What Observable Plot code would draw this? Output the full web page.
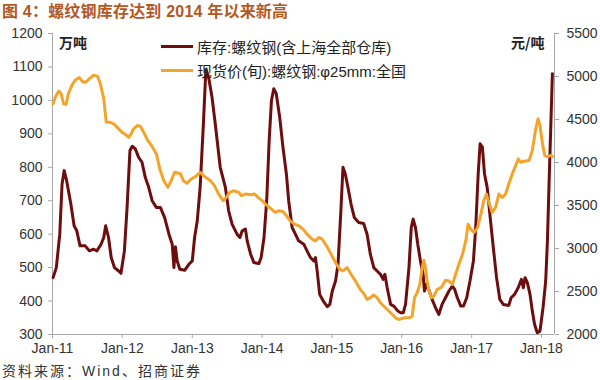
<!DOCTYPE html>
<html>
<head>
<meta charset="utf-8">
<script src="https://cdn.jsdelivr.net/npm/d3@7"></script>
<script src="https://cdn.jsdelivr.net/npm/@observablehq/plot@0.6"></script>
<style>
  body { margin: 0; background: #fff; }
  #wrap { position: relative; width: 600px; height: 380px; overflow: hidden; font-family: "Liberation Sans", Arial, "Noto Sans CJK SC", sans-serif; }
  #title { height: 24px; line-height: 24px; padding-left: 2px; font-size: 16px; font-weight: bold; color: #b5581f; font-family: "Liberation Sans", "Noto Sans CJK SC", sans-serif; white-space: nowrap; letter-spacing: 0.2px; }
  #caption { height: 16px; line-height: 14px; padding-left: 2px; font-size: 14px; letter-spacing: 2px; color: #333; font-family: "Liberation Sans", "Noto Sans CJK SC", sans-serif; white-space: nowrap; }
  .unit { position: absolute; font-size: 14px; font-weight: bold; color: #222; font-family: "Noto Sans CJK SC", sans-serif; line-height: 14px; }
  #legend { position: absolute; left: 161px; top: 34px; font-size: 15px; color: #222; font-family: "Liberation Sans", "Noto Sans CJK SC", sans-serif; }
  .row { display: flex; align-items: center; height: 24px; }
  .sw { width: 32px; height: 3px; margin-right: 4px; }
  svg { display: block; }
</style>
</head>
<body>
<div id="wrap">
  <div id="title">图 4：螺纹钢库存达到 2014 年以来新高</div>
  <div id="chart"></div>
  <div id="caption">资料来源：Wind、招商证券</div>
  <div class="unit" style="left:59px; top:35px;">万吨</div>
  <div class="unit" style="left:511px; top:35px;">元/吨</div>
  <div id="legend"></div>
</div>
<script>
// ---- data ----
const seriesNames = ["库存:螺纹钢(含上海全部仓库)", "现货价(旬):螺纹钢:φ25mm:全国"];
const seriesColors = ["#6e0d0d", "#f4a42a"];

const invDates = ["2011-01-04","2011-01-21","2011-02-08","2011-02-20","2011-03-03","2011-03-16","2011-04-07","2011-04-24","2011-05-08","2011-05-25","2011-06-21","2011-07-13","2011-08-04","2011-08-21","2011-09-12","2011-09-26","2011-10-06","2011-10-21","2011-11-04","2011-11-21","2011-12-13","2011-12-25",
"2012-01-12","2012-01-26","2012-02-10","2012-02-22","2012-03-09","2012-03-26","2012-04-13","2012-04-30","2012-05-18","2012-06-05","2012-06-27","2012-07-18","2012-08-09","2012-09-01","2012-09-18","2012-09-27","2012-10-05","2012-10-14","2012-10-28","2012-11-22","2012-12-14",
"2013-01-01","2013-01-13","2013-01-27","2013-02-11","2013-02-28","2013-03-13","2013-03-27","2013-04-14","2013-05-01","2013-05-27","2013-06-23","2013-07-10","2013-07-28","2013-08-23","2013-09-07","2013-09-19","2013-10-06","2013-10-15","2013-11-02","2013-11-19","2013-12-15","2013-12-27",
"2014-01-11","2014-01-25","2014-02-07","2014-02-19","2014-03-03","2014-03-16","2014-04-03","2014-04-20","2014-05-08","2014-05-20","2014-06-07","2014-06-24","2014-07-11","2014-08-07","2014-08-24","2014-09-11","2014-09-28","2014-10-07","2014-10-16","2014-10-29","2014-11-17","2014-12-08","2014-12-21",
"2015-01-03","2015-01-20","2015-02-02","2015-02-16","2015-02-28","2015-03-12","2015-03-26","2015-04-11","2015-04-28","2015-05-21","2015-06-16","2015-07-04","2015-07-21","2015-08-08","2015-08-25","2015-09-12","2015-09-26","2015-10-05","2015-10-17","2015-11-04","2015-11-21","2015-12-12","2015-12-26",
"2016-01-09","2016-01-21","2016-02-08","2016-02-20","2016-03-01","2016-03-13","2016-03-25","2016-04-08","2016-04-22","2016-04-29","2016-05-09","2016-05-21","2016-06-08","2016-06-26","2016-07-13","2016-07-30","2016-08-17","2016-09-04","2016-09-22","2016-10-04","2016-10-18","2016-11-05","2016-11-19","2016-12-06","2016-12-23",
"2017-01-10","2017-01-22","2017-02-04","2017-02-14","2017-02-26","2017-03-09","2017-03-23","2017-04-06","2017-04-24","2017-05-11","2017-05-28","2017-06-15","2017-07-14","2017-07-26","2017-08-13","2017-09-01","2017-09-18","2017-09-28","2017-10-07","2017-10-19","2017-11-02","2017-11-14","2017-11-26","2017-12-10","2017-12-24",
"2018-01-09","2018-01-23","2018-02-01","2018-02-10","2018-02-19","2018-02-27"];
const invValues = [470,500,600,750,790,760,690,625,610,565,565,550,555,550,570,590,625,590,530,500,490,483,
550,680,850,863,855,830,815,770,740,700,680,680,650,600,570,500,562,520,495,492,510,
520,590,640,740,930,1092,1070,1010,930,800,740,670,630,600,590,610,615,580,540,515,512,530,
590,700,880,1000,1035,1020,950,860,780,700,620,600,580,570,550,530,520,530,490,420,400,383,390,
430,460,510,660,800,780,740,690,650,635,632,600,540,500,490,480,465,480,440,390,385,370,365,
365,390,500,620,645,620,570,520,480,430,450,435,405,380,360,390,410,430,445,435,410,385,385,410,460,
520,620,780,870,860,780,740,660,560,470,405,390,387,410,420,440,465,440,470,455,420,370,330,305,310,
380,460,580,760,930,1080];

const priceDates = ["2011-01-04","2011-01-16","2011-02-03","2011-02-15","2011-02-28","2011-03-13","2011-03-25","2011-04-12","2011-04-29","2011-05-22","2011-06-09","2011-06-26","2011-07-13","2011-08-04","2011-08-25","2011-09-08","2011-09-26","2011-10-09","2011-10-27","2011-11-17","2011-12-08","2011-12-30",
"2012-01-17","2012-02-04","2012-02-16","2012-02-29","2012-03-21","2012-04-05","2012-04-22","2012-05-13","2012-06-05","2012-06-27","2012-07-15","2012-08-05","2012-08-26","2012-09-13","2012-09-30","2012-10-17","2012-11-01","2012-11-15","2012-12-05","2012-12-26",
"2013-01-18","2013-02-11","2013-03-01","2013-03-19","2013-04-06","2013-04-27","2013-05-19","2013-06-11","2013-06-28","2013-07-16","2013-08-06","2013-09-02","2013-09-14","2013-10-06","2013-11-02","2013-11-23","2013-12-10",
"2014-01-02","2014-01-28","2014-02-19","2014-03-11","2014-03-28","2014-04-20","2014-05-08","2014-05-28","2014-06-19","2014-07-11","2014-08-03","2014-08-24","2014-09-20","2014-10-07","2014-10-24","2014-11-11","2014-12-04","2014-12-28",
"2015-01-20","2015-02-12","2015-02-28","2015-03-21","2015-04-11","2015-05-04","2015-05-29","2015-06-20","2015-07-04","2015-07-21","2015-08-08","2015-08-25","2015-09-12","2015-10-08","2015-11-04","2015-11-30","2015-12-17",
"2016-01-13","2016-02-08","2016-02-25","2016-03-08","2016-03-22","2016-04-05","2016-04-17","2016-04-26","2016-05-04","2016-05-13","2016-05-21","2016-06-04","2016-06-17","2016-07-05","2016-07-25","2016-08-17","2016-09-04","2016-09-22","2016-10-09","2016-10-26","2016-11-14","2016-12-01","2016-12-13","2016-12-27",
"2017-01-14","2017-02-01","2017-02-18","2017-03-05","2017-03-19","2017-04-01","2017-04-18","2017-05-06","2017-05-23","2017-06-10","2017-06-27","2017-07-14","2017-08-01","2017-08-19","2017-09-02","2017-09-14","2017-10-02","2017-10-28","2017-11-14","2017-12-02","2017-12-14","2017-12-24",
"2018-01-06","2018-01-18","2018-02-01","2018-02-19","2018-02-27"];
const priceValues = [4683,4761,4831,4800,4683,4676,4800,4897,4956,4987,4936,4936,4975,5014,5002,4917,4742,4469,4469,4450,4403,4353,
4326,4294,4333,4392,4431,4419,4353,4256,4186,4100,3925,3789,3711,3789,3886,3878,3867,3789,3758,3808,
3836,3886,3847,3816,3789,3731,3633,3556,3594,3653,3672,3653,3614,3633,3626,3633,3594,
3556,3497,3458,3419,3439,3431,3381,3322,3283,3264,3225,3167,3108,3089,3128,3108,3031,2933,
2836,2758,2739,2778,2700,2622,2525,2467,2408,2428,2459,2428,2369,2311,2253,2194,2175,
2194,2194,2214,2428,2486,2583,2778,2863,2778,2622,2525,2428,2447,2525,2544,2630,2622,2583,2700,2817,2933,3089,3283,3225,
3186,3244,3400,3556,3633,3536,3419,3478,3633,3594,3633,3750,3867,3964,4042,4003,4014,4022,4139,4392,4508,4431,
4217,4081,4069,4081,4069];

const invTicks = [300,400,500,600,700,800,900,1000,1100,1200];
const priceTicks = [2000,2500,3000,3500,4000,4500,5000,5500];
const yearTicks = ["2011-01-01","2012-01-01","2013-01-01","2014-01-01","2015-01-01","2016-01-01","2017-01-01","2018-01-01"];
const xDomain = ["2011-01-01","2018-03-10"];

// ---- build ----
const parse = d3.utcParse("%Y-%m-%d");
const inv = invDates.map((d, i) => ({date: parse(d), value: invValues[i]}));
const price = priceDates.map((d, i) => ({date: parse(d), value: priceValues[i]}));

// secondary axis mapping: price range [2000,5500] onto inventory range [300,1200]
const invRange = [invTicks[0], invTicks[invTicks.length - 1]];
const priceRange = [priceTicks[0], priceTicks[priceTicks.length - 1]];
const toLeft = p => invRange[0] + (p - priceRange[0]) * (invRange[1] - invRange[0]) / (priceRange[1] - priceRange[0]);
const fromLeft = v => priceRange[0] + (v - invRange[0]) * (priceRange[1] - priceRange[0]) / (invRange[1] - invRange[0]);

const axisColor = "#a8a8a8";
const textColor = "#333";

const chart = Plot.plot({
  width: 600,
  height: 340,
  marginTop: 9,
  marginBottom: 30,
  marginLeft: 52,
  marginRight: 46,
  style: {fontFamily: "'Liberation Sans', Arial, sans-serif", fontSize: "14px", color: textColor, background: "#fff"},
  x: {type: "utc", domain: xDomain.map(parse)},
  y: {domain: invRange},
  marks: [
    Plot.ruleX([parse(xDomain[0])], {stroke: axisColor, strokeWidth: 1}),
    Plot.ruleX([parse(xDomain[1])], {stroke: axisColor, strokeWidth: 1}),
    Plot.ruleY([invRange[0]], {stroke: axisColor, strokeWidth: 1}),
    Plot.axisY(invTicks, {anchor: "left", tickSize: 4, tickPadding: 6, stroke: axisColor, fill: textColor, label: null, fontSize: 14,
      tickFormat: v => String(v)}),
    Plot.axisY(priceTicks.map(toLeft), {anchor: "right", tickSize: 4, tickPadding: 8, stroke: axisColor, fill: textColor, label: null, fontSize: 14,
      tickFormat: v => String(Math.round(fromLeft(v)))}),
    Plot.axisX(yearTicks.map(parse), {anchor: "bottom", tickSize: 4, tickPadding: 5, stroke: axisColor, fill: textColor, label: null, fontSize: 14,
      tickFormat: d3.utcFormat("%b-%y")}),
    Plot.lineY(inv, {x: "date", y: "value", stroke: seriesColors[0], strokeWidth: 3, curve: "linear"}),
    Plot.lineY(price, {x: "date", y: d => toLeft(d.value), stroke: seriesColors[1], strokeWidth: 3, curve: "linear"})
  ]
});
document.getElementById("chart").appendChild(chart);

const legend = document.getElementById("legend");
seriesNames.forEach((name, i) => {
  const row = document.createElement("div");
  row.className = "row";
  const sw = document.createElement("div");
  sw.className = "sw";
  sw.style.background = seriesColors[i];
  const t = document.createElement("span");
  t.textContent = name;
  row.appendChild(sw);
  row.appendChild(t);
  legend.appendChild(row);
});
</script>
</body>
</html>
